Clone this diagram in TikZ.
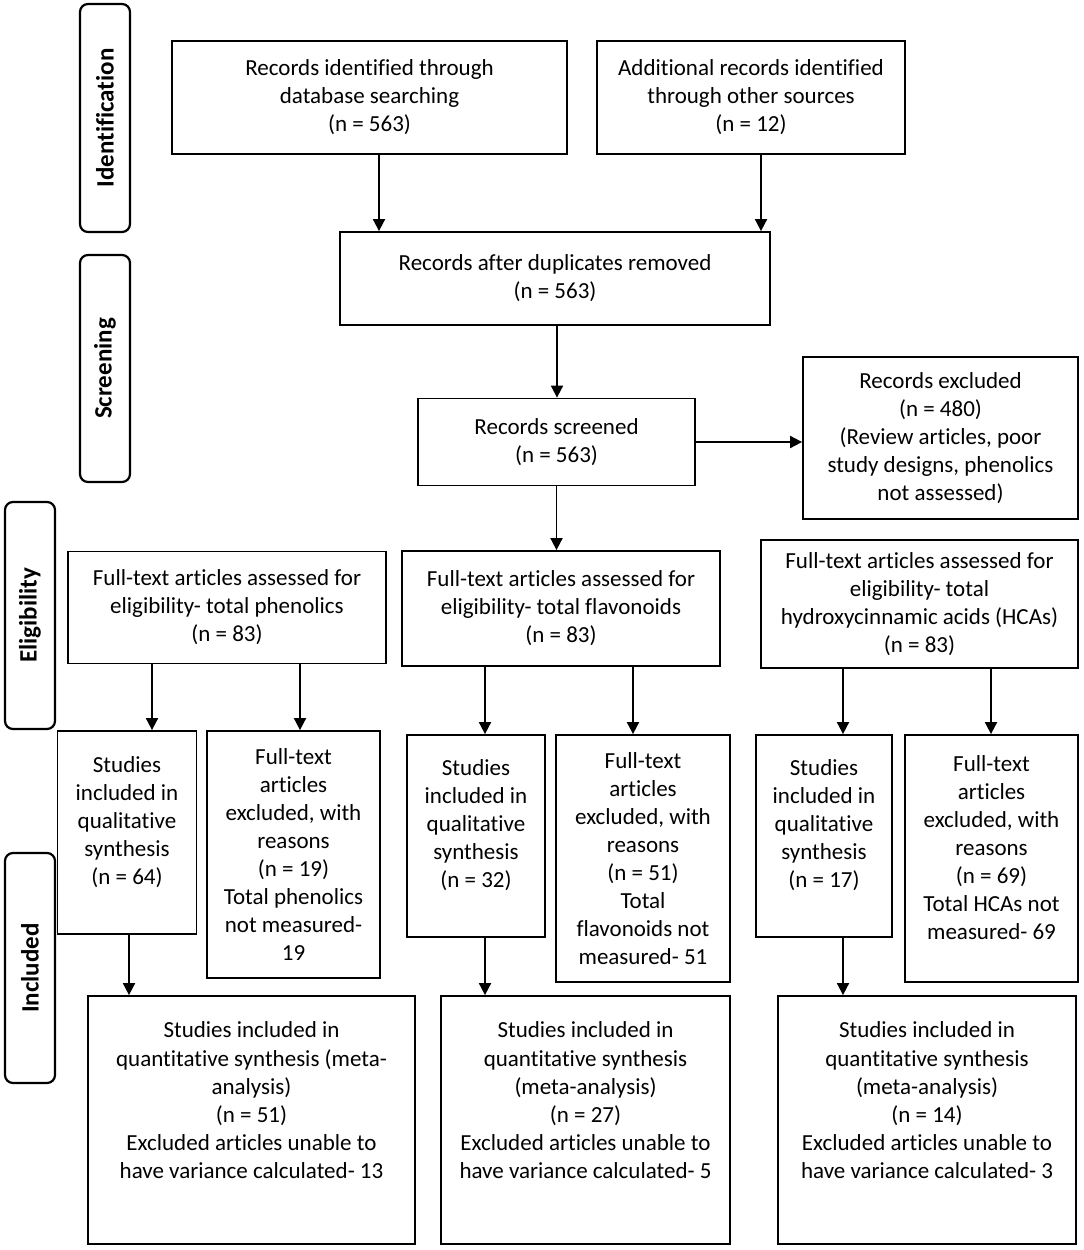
\documentclass[tikz,border=0pt]{standalone}
\usepackage{fontspec}
\setmainfont[Ligatures=NoCommon]{Carlito}
\usetikzlibrary{arrows.meta}
\tikzset{
  box/.style={draw, line width=1.8pt, inner sep=0pt, align=center, font=\fontsize{23}{28}\selectfont},
  sidelab/.style={draw, line width=2.2pt, rounded corners=8pt, rotate=90, inner sep=0pt, font=\fontsize{25}{28}\selectfont\bfseries},
  arr/.style={line width=1.8pt, -{Triangle[length=12pt,width=12pt]}}
}
\begin{document}
\begin{tikzpicture}[x=1pt,y=-1pt]
\useasboundingbox (0,0) rectangle (1084,1250);
% side labels
\node[sidelab, minimum width=228pt, minimum height=50pt] (sI) at (105,118) {Identification};
\node[sidelab, minimum width=227pt, minimum height=50pt] (sS) at (105,368.5) {Screening};
\node[sidelab, minimum width=227pt, minimum height=50pt] (sE) at (30,615.5) {Eligibility};
\node[sidelab, minimum width=230pt, minimum height=50pt] (sN) at (30,968) {Included};
% boxes
\node[box, minimum width=395pt, minimum height=113pt] (A) at (369.5,97.5) {Records identified through\\database searching\\(n = 563)};
\node[box, minimum width=308pt, minimum height=113pt] (B) at (751,97.5) {Additional records identified\\through other sources\\(n = 12)};
\node[box, minimum width=430pt, minimum height=93pt] (C) at (555,278.5) {Records after duplicates removed\\(n = 563)};
\node[box, minimum width=277pt, minimum height=87pt] (D) at (556.5,442) {Records screened\\(n = 563)};
\node[box, minimum width=275pt, minimum height=162pt] (E) at (940.5,438) {Records excluded\\(n = 480)\\(Review articles, poor\\study designs, phenolics\\not assessed)};
\node[box, minimum width=318pt, minimum height=112pt] (F1) at (227,607.5) {Full-text articles assessed for\\eligibility- total phenolics\\(n = 83)};
\node[box, minimum width=318pt, minimum height=115pt] (F2) at (561,608.5) {Full-text articles assessed for\\eligibility- total flavonoids\\(n = 83)};
\node[box, minimum width=317pt, minimum height=128pt] (F3) at (919.5,604) {Full-text articles assessed for\\eligibility- total\\hydroxycinnamic acids (HCAs)\\(n = 83)};
\node[box, minimum width=139pt, minimum height=203pt] (G1) at (127,832.5) {Studies\\included in\\qualitative\\synthesis\\(n = 64)\\[-4pt]\mbox{}};
\node[box, minimum width=173pt, minimum height=247pt] (H1) at (293.5,854.5) {Full-text\\articles\\excluded, with\\reasons\\(n = 19)\\Total phenolics\\not measured-\\19};
\node[box, minimum width=138pt, minimum height=202pt] (G2) at (476,836) {Studies\\included in\\qualitative\\synthesis\\(n = 32)\\[-4pt]\mbox{}};
\node[box, minimum width=174pt, minimum height=247pt] (H2) at (643,858.5) {Full-text\\articles\\excluded, with\\reasons\\(n = 51)\\Total\\flavonoids not\\measured- 51};
\node[box, minimum width=136pt, minimum height=202pt] (G3) at (824,836) {Studies\\included in\\qualitative\\synthesis\\(n = 17)\\[-4pt]\mbox{}};
\node[box, minimum width=173pt, minimum height=247pt] (H3) at (991.5,858.5) {Full-text\\articles\\excluded, with\\reasons\\(n = 69)\\Total HCAs not\\measured- 69\\[-6pt]\mbox{}};
\node[box, minimum width=327pt, minimum height=248pt] (I1) at (251.5,1120) {Studies included in\\quantitative synthesis (meta-\\analysis)\\(n = 51)\\Excluded articles unable to\\have variance calculated- 13\\[12pt]\mbox{}};
\node[box, minimum width=289pt, minimum height=248pt] (I2) at (585.5,1120) {Studies included in\\quantitative synthesis\\(meta-analysis)\\(n = 27)\\Excluded articles unable to\\have variance calculated- 5\\[12pt]\mbox{}};
\node[box, minimum width=298pt, minimum height=248pt] (I3) at (927,1120) {Studies included in\\quantitative synthesis\\(meta-analysis)\\(n = 14)\\Excluded articles unable to\\have variance calculated- 3\\[12pt]\mbox{}};
% arrows
\draw[arr] ([xshift=9.5pt]A.south) -- ([xshift=9.5pt]A.south |- C.north);
\draw[arr] ([xshift=10pt]B.south) -- ([xshift=10pt]B.south |- C.north);
\draw[arr] ([xshift=2pt]C.south) -- ([xshift=2pt]C.south |- D.north);
\draw[arr] (D.east) -- (D.east -| E.west);
\draw[arr] (D.south) -- (D.south |- F2.north);
\draw[arr] ([xshift=-75pt]F1.south) -- ([xshift=-75pt]F1.south |- G1.north);
\draw[arr] ([xshift=73pt]F1.south) -- ([xshift=73pt]F1.south |- H1.north);
\draw[arr] ([xshift=-76pt]F2.south) -- ([xshift=-76pt]F2.south |- G2.north);
\draw[arr] ([xshift=72pt]F2.south) -- ([xshift=72pt]F2.south |- H2.north);
\draw[arr] ([xshift=-76.5pt]F3.south) -- ([xshift=-76.5pt]F3.south |- G3.north);
\draw[arr] ([xshift=71.5pt]F3.south) -- ([xshift=71.5pt]F3.south |- H3.north);
\draw[arr] ([xshift=2pt]G1.south) -- ([xshift=2pt]G1.south |- I1.north);
\draw[arr] ([xshift=9pt]G2.south) -- ([xshift=9pt]G2.south |- I2.north);
\draw[arr] ([xshift=19pt]G3.south) -- ([xshift=19pt]G3.south |- I3.north);
\end{tikzpicture}
\end{document}
